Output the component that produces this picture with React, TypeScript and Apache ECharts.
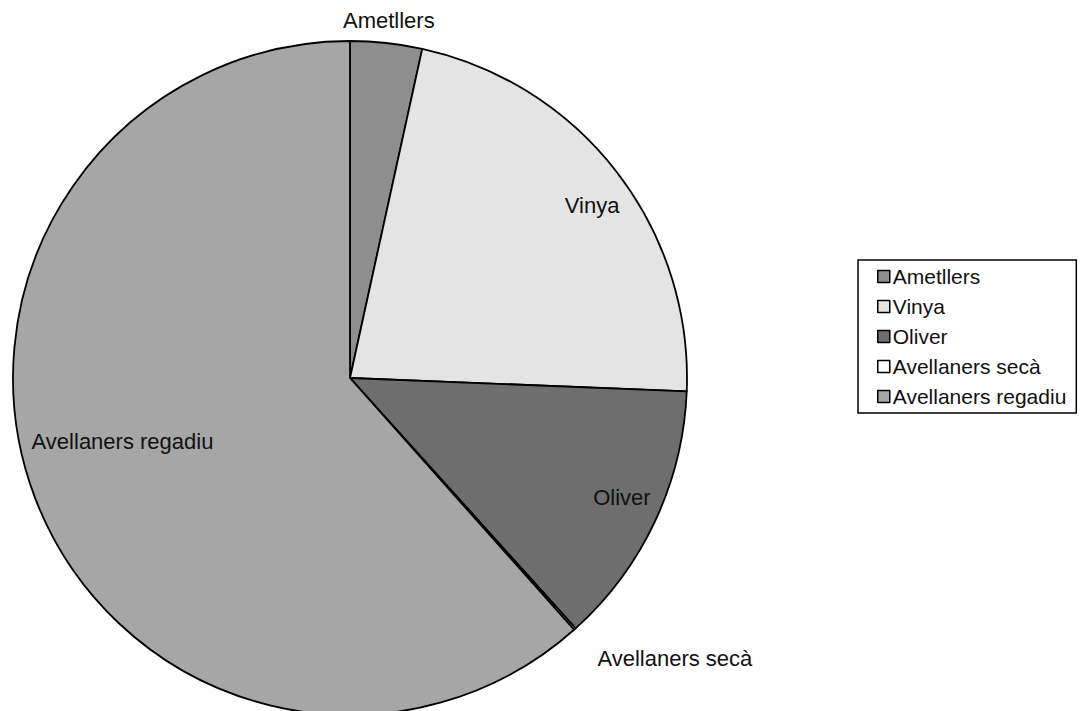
import React, { useEffect, useRef } from "react";
import * as echarts from "echarts";

const categories = ["Ametllers", "Vinya", "Oliver", "Avellaners secà", "Avellaners regadiu"];
const values = [3.44, 22.2, 12.7, 0.1, 61.6];
const colors = ["#8e8e8e", "#e4e4e4", "#6e6e6e", "#ffffff", "#a6a6a6"];

const FONT = "'Liberation Sans', Arial, sans-serif";
const CENTER = [350, 378];

function labelSeries(show: string[], radius: [number, number], layout?: any) {
  return {
    type: "pie",
    silent: true,
    center: CENTER,
    radius,
    startAngle: 90,
    clockwise: true,
    avoidLabelOverlap: false,
    emphasis: { disabled: true },
    labelLine: { show: false },
    labelLayout: layout,
    itemStyle: { color: "rgba(0,0,0,0)", borderWidth: 0 },
    data: categories.map((name, i) => ({
      name,
      value: values[i],
      label: {
        show: show.includes(name),
        position: "inside",
        fontFamily: FONT,
        fontSize: 22,
        color: "#111",
        formatter: "{b}",
      },
    })),
  };
}

export default function App() {
  const ref = useRef<HTMLDivElement>(null);
  useEffect(() => {
    if (!ref.current) return;
    const chart = echarts.init(ref.current, undefined, { renderer: "svg" });
    chart.setOption({
      animation: false,
      backgroundColor: "#ffffff",
      legend: {
        orient: "vertical",
        left: 858,
        top: 260,
        data: categories,
        icon: "rect",
        itemWidth: 12,
        itemHeight: 12,
        itemGap: 9,
        padding: [6, 10, 6, 19],
        borderColor: "#000",
        borderWidth: 1.5,
        selectedMode: false,
        itemStyle: { borderColor: "#000", borderWidth: 1.5 },
        textStyle: { fontFamily: FONT, fontSize: 21, color: "#111", lineHeight: 21, padding: [0, 0, 0, -2] },
      },
      series: [
        {
          type: "pie",
          center: CENTER,
          radius: 337,
          startAngle: 90,
          clockwise: true,
          avoidLabelOverlap: false,
          emphasis: { disabled: true },
          label: { show: false },
          labelLine: { show: false },
          itemStyle: { borderColor: "#000", borderWidth: 1.8 },
          data: categories.map((name, i) => ({
            name,
            value: values[i],
            itemStyle: { color: colors[i] },
          })),
        },
        labelSeries(["Ametllers"], [347, 367]),
        labelSeries(["Vinya"], [279, 309], { dx: 7, dy: 9 }),
        labelSeries(["Oliver"], [279, 309], { dx: 3, dy: -7 }),
        labelSeries(["Avellaners regadiu"], [219, 249], { dx: -6, dy: -21 }),
        labelSeries(["Avellaners secà"], [363, 383], { dx: 74, dy: 0 }),
      ],
    });
    return () => chart.dispose();
  }, []);
  return (
    <div
      ref={ref}
      style={{ position: "fixed", left: 0, top: 0, width: 1081, height: 711, background: "#fff" }}
    />
  );
}
